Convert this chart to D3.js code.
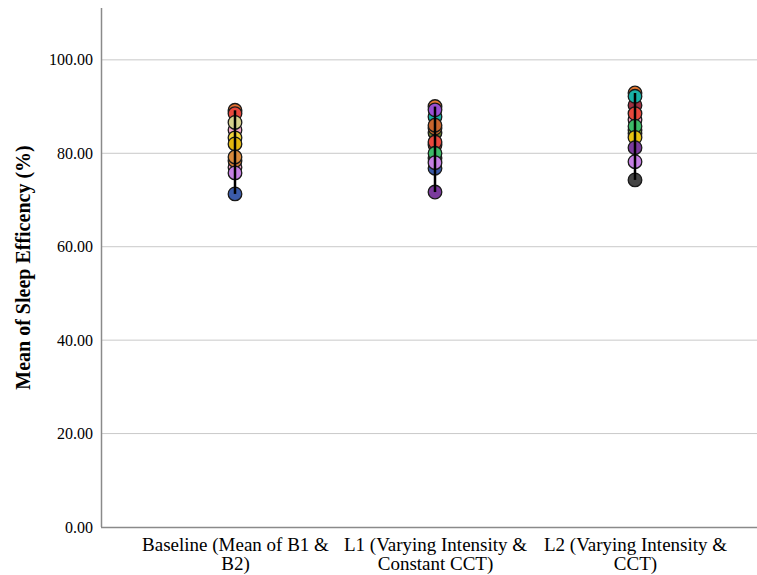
<!DOCTYPE html>
<html>
<head>
<meta charset="utf-8">
<script src="https://cdn.jsdelivr.net/npm/d3@7"></script>
<style>
  html, body { margin: 0; padding: 0; background: #fff; }
  svg { display: block; }
  text { font-family: "Liberation Serif", "Times New Roman", serif; fill: #000; }
</style>
</head>
<body>
<svg id="chart" width="757" height="575"></svg>
<script>
// Conditions along the x axis (each label drawn on two lines)
const conditions = ["Baseline", "L1", "L2"];
const conditionLabels = [
  ["Baseline (Mean of B1 &", "B2)"],
  ["L1 (Varying Intensity &", "Constant CCT)"],
  ["L2 (Varying Intensity &", "CCT)"]
];

// Mean sleep efficiency (%) per participant, listed in drawing order
const baselineValues = [85.0, 89.2, 88.5, 86.6, 83.3, 82.0, 77.0, 78.4, 79.2, 75.8, 71.3];
const baselineColors = ["#f4a9cc", "#e8702f", "#e8483d", "#d5d08c", "#f0d23a", "#e2b80f",
                        "#f4a9cc", "#d07a35", "#d98a3c", "#c57fe3", "#3b5ba9"];

const l1Values = [87.8, 90.0, 89.3, 84.4, 85.4, 86.0, 81.8, 82.4, 79.0, 80.0, 76.8, 78.0, 71.7];
const l1Colors = ["#19b0a6", "#e5762f", "#9a4fd3", "#6c7f2a", "#d0702f", "#c8652d",
                  "#e05040", "#e8483d", "#5fcf8a", "#3dba68", "#3b5ba9", "#c57fe3", "#7b3b9d"];

const l2Values = [90.3, 92.9, 92.2, 87.2, 88.5, 84.3, 85.0, 85.8, 83.4, 81.2, 78.2, 74.3];
const l2Colors = ["#a03040", "#e5762f", "#19b0a6", "#f4a9cc", "#e8483d", "#6c7f2a",
                  "#8dc63f", "#3dba68", "#e9c212", "#7b3b9d", "#c57fe3", "#454545"];

const yTicks = [0, 20, 40, 60, 80, 100];

const seriesByCondition = [
  { values: baselineValues, colors: baselineColors },
  { values: l1Values, colors: l1Colors },
  { values: l2Values, colors: l2Colors }
];

const svg = d3.select("#chart");
const axisLeftX = 101, plotTop = 8, plotBottom = 527, plotRight = 757;

const y = d3.scaleLinear().domain([0, 111.1]).range([plotBottom, plotTop]);
const x = d3.scalePoint().domain(conditions).range([235, 635]);

// Horizontal grid lines
svg.append("g")
  .selectAll("line")
  .data(yTicks.filter(d => d > 0))
  .join("line")
  .attr("x1", axisLeftX).attr("x2", plotRight)
  .attr("y1", d => y(d)).attr("y2", d => y(d))
  .attr("stroke", "#c9c9c9").attr("stroke-width", 1);

// Y axis
const yAxis = svg.append("g")
  .attr("transform", `translate(${axisLeftX},0)`)
  .call(d3.axisLeft(y).tickValues(yTicks).tickFormat(d3.format(".2f")).tickSize(0).tickPadding(8));
yAxis.select(".domain").remove();
yAxis.selectAll("text")
  .attr("font-size", 16)
  .attr("font-family", "Liberation Serif, serif");
svg.append("line")
  .attr("x1", axisLeftX + 0.5).attr("x2", axisLeftX + 0.5)
  .attr("y1", plotTop).attr("y2", plotBottom)
  .attr("stroke", "#8a8a8a").attr("stroke-width", 1.5);

// X axis
svg.append("line")
  .attr("x1", axisLeftX).attr("x2", plotRight)
  .attr("y1", plotBottom + 0.5).attr("y2", plotBottom + 0.5)
  .attr("stroke", "#8a8a8a").attr("stroke-width", 1.5);

const xAxis = svg.append("g")
  .attr("transform", `translate(0,${plotBottom})`)
  .call(d3.axisBottom(x).tickSize(0).tickFormat(() => ""));
xAxis.select(".domain").remove();
xAxis.selectAll(".tick text").remove();
xAxis.selectAll(".tick")
  .append("text")
  .attr("text-anchor", "middle")
  .attr("font-size", 19)
  .attr("font-family", "Liberation Serif, serif")
  .selectAll("tspan")
  .data(d => conditionLabels[conditions.indexOf(d)])
  .join("tspan")
  .attr("x", 0)
  .attr("y", (d, i) => 24 + i * 19)
  .text(d => d);

// Y axis title
svg.append("text")
  .attr("transform", `translate(30,${(plotTop + plotBottom) / 2}) rotate(-90)`)
  .attr("text-anchor", "middle")
  .attr("font-size", 20)
  .attr("font-weight", "bold")
  .text("Mean of Sleep Efficency (%)");

// Participant points per condition, with a line spanning lowest to highest
conditions.forEach((c, ci) => {
  const { values, colors } = seriesByCondition[ci];
  svg.append("g")
    .selectAll("circle")
    .data(values)
    .join("circle")
    .attr("cx", x(c))
    .attr("cy", d => y(d))
    .attr("r", 6.8)
    .attr("fill", (d, i) => colors[i])
    .attr("stroke", "#1a1a1a")
    .attr("stroke-width", 1.3);

  const [lo, hi] = d3.extent(values);
  svg.append("line")
    .attr("x1", x(c)).attr("x2", x(c))
    .attr("y1", y(lo)).attr("y2", y(hi))
    .attr("stroke", "#000").attr("stroke-width", 2.5);
});
</script>
</body>
</html>
